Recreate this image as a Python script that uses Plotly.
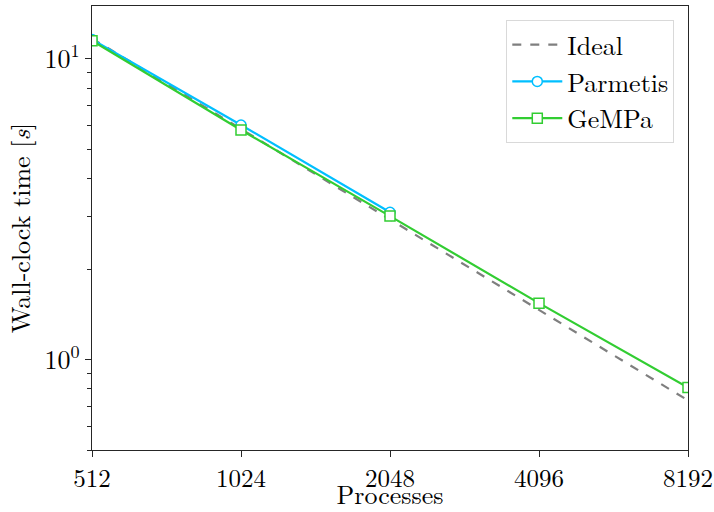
import plotly.graph_objects as go
import math

processes = [512, 1024, 2048, 4096, 8192]
ideal = [11.7, 5.85, 2.925, 1.4625, 0.731]
parmetis_procs = [512, 1024, 2048]
parmetis = [11.6, 6.03, 3.09]
gempa_procs = [512, 1024, 2048, 4096, 8192]
gempa = [11.5, 5.8, 3.0, 1.54, 0.807]

FONT = "Latin Modern Roman"
FS = 26
fig = go.Figure()
fig.add_trace(go.Scatter(x=processes, y=ideal, mode="lines", name="Ideal",
                         line=dict(color="#7f7f7f", width=2.2, dash="dash")))
fig.add_trace(go.Scatter(x=parmetis_procs, y=parmetis, mode="lines+markers", name="Parmetis",
                         line=dict(color="#00BFFF", width=2.2),
                         marker=dict(symbol="circle", size=10, color="white",
                                     line=dict(color="#00BFFF", width=1.5))))
fig.add_trace(go.Scatter(x=gempa_procs, y=gempa, mode="lines+markers", name="GeMPa",
                         line=dict(color="#32CD32", width=2.2),
                         marker=dict(symbol="square", size=10, color="white",
                                     line=dict(color="#32CD32", width=1.5))))

minor_y = [v * m for v in (0.1, 1) for m in range(2, 10)]
fig.update_layout(
    width=714, height=512,
    margin=dict(l=92, r=26, t=6, b=62, autoexpand=False),
    paper_bgcolor="white", plot_bgcolor="white",
    font=dict(family=FONT, size=FS, color="black"),
    showlegend=True,
    legend=dict(x=0.977, y=0.968, xanchor="right", yanchor="top",
                bordercolor="#d9d9d9", borderwidth=1, bgcolor="rgba(255,255,255,0.8)",
                font=dict(family=FONT, size=FS, color="black"), tracegroupgap=0,
                itemwidth=50),
    xaxis=dict(type="log", range=[math.log10(512), math.log10(8192)], automargin=False,
               tickmode="array", tickvals=processes, ticktext=[str(p) for p in processes],
               tickfont=dict(family=FONT, size=25, color="black"),
               ticklabeloverflow="allow",
               ticks="outside", ticklen=6, tickwidth=1.2, tickcolor="#262626",
               showline=True, linecolor="#262626", linewidth=1.2, mirror=True,
               showgrid=False, zeroline=False,
               title=dict(text="Processes", font=dict(family=FONT, size=FS, color="black"), standoff=8)),
    yaxis=dict(type="log", range=[math.log10(0.5), math.log10(15)], automargin=False,
               tickmode="array", tickvals=[1, 10], ticktext=["10<sup>0</sup>", "10<sup>1</sup>"],
               tickfont=dict(family=FONT, size=FS, color="black"),
               ticks="outside", ticklen=6, tickwidth=1.2, tickcolor="#262626",
               minor=dict(tickmode="array", tickvals=minor_y, ticks="outside", ticklen=3.5,
                          tickwidth=1, tickcolor="#262626", showgrid=False),
               showline=True, linecolor="#262626", linewidth=1.2, mirror=True,
               showgrid=False, zeroline=False,
               title=dict(text="Wall-clock time [<i>s</i>]", font=dict(family=FONT, size=FS, color="black"), standoff=6)),
)
fig.write_html("out.html")
